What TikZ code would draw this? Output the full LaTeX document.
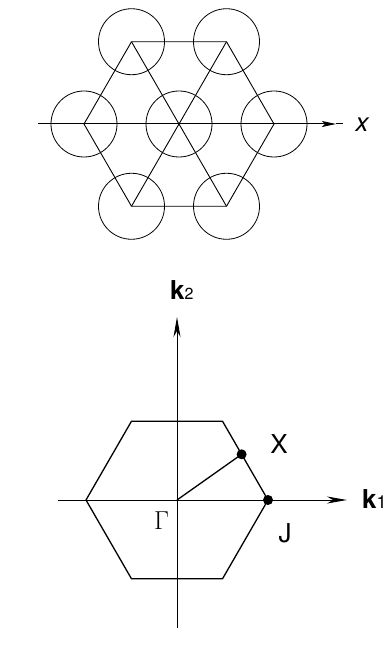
\RequirePackage{fix-cm}
\documentclass[tikz,border=0pt]{standalone}
\usepackage[no-math]{fontspec}
\setmainfont{TeX Gyre Heros}
\usetikzlibrary{arrows.meta, calc}

\begin{document}
\begin{tikzpicture}[
  x=1pt, y=1pt,
  lattice/.style={line width=0.9pt},
  site/.style={circle, draw, line width=0.8pt, minimum size=66pt, inner sep=0pt},
  axis/.style={line width=1pt},
  zone/.style={line width=1.3pt},
  kpoint/.style={circle, fill, inner sep=0pt, minimum size=10pt},
  every node/.style={font=\fontsize{26}{30}\selectfont}
]
  \useasboundingbox (-179,124) rectangle (207,-534);

  % real-space lattice
  \node[site] (C) at (0,0) {};
  \foreach \ang/\name in {0/E, 60/NE, 120/NW, 180/W, 240/SW, 300/SE}
    \node[site] (\name) at (\ang:95) {};

  \draw[lattice] (E.center) -- (NE.center) -- (NW.center) -- (W.center)
        -- (SW.center) -- (SE.center) -- cycle;
  \foreach \name in {NE, NW, SW, SE}
    \draw[lattice] (C.center) -- (\name.center);

  \coordinate (xstart) at (-141,0);
  \coordinate (xtip)   at (157,0);
  \coordinate (xend)   at (164,0);
  \draw[axis, -{Stealth[length=14pt, width=6pt, inset=3pt]}] (xstart) -- (xtip);
  \draw[axis] (xtip) -- (xend);
  \node[anchor=base west, font=\fontsize{26}{30}\selectfont\itshape] (xlabel) at (173,-8) {x};

  % Brillouin zone
  \begin{scope}[shift={(-2,-376)}]
    \coordinate (G) at (0,0);
    \foreach \ang/\name in {0/H0, 60/H1, 120/H2, 180/H3, 240/H4, 300/H5}
      \coordinate (\name) at (\ang:91);

    \draw[zone] (H0) -- (H1) -- (H2) -- (H3) -- (H4) -- (H5) -- cycle;

    \coordinate (k1start) at (-119,0);
    \coordinate (k1end)   at (170,0);
    \coordinate (k2start) at (0,-128);
    \coordinate (k2end)   at (0,183);
    \draw[axis, -{Stealth[length=20pt, width=7pt, inset=6pt]}] (k1start) -- (k1end);
    \draw[axis, -{Stealth[length=20pt, width=7pt, inset=6pt]}] (k2start) -- (k2end);

    \coordinate (X) at ($(H1)!0.42!(H0)$);
    \draw[zone] (G) -- (X);
    \node[kpoint] (Xdot) at (X) {};
    \node[kpoint] (Jdot) at (H0) {};

    \node[anchor=base] (Xlabel) at (102,47) {X};
    \node[anchor=base] (Jlabel) at (108,-42) {J};
    \node[anchor=base] (Glabel) at (-15.5,-29) {$\Gamma$};
    \node[anchor=base west, inner sep=0pt] (k1label) at (185,-8)
      {\textbf{k}{\fontsize{18}{20}\selectfont 1}};
    \node[anchor=base west, inner sep=0pt] (k2label) at (-7,201)
      {\textbf{k}{\fontsize{16}{18}\selectfont 2}};
  \end{scope}
\end{tikzpicture}
\end{document}
